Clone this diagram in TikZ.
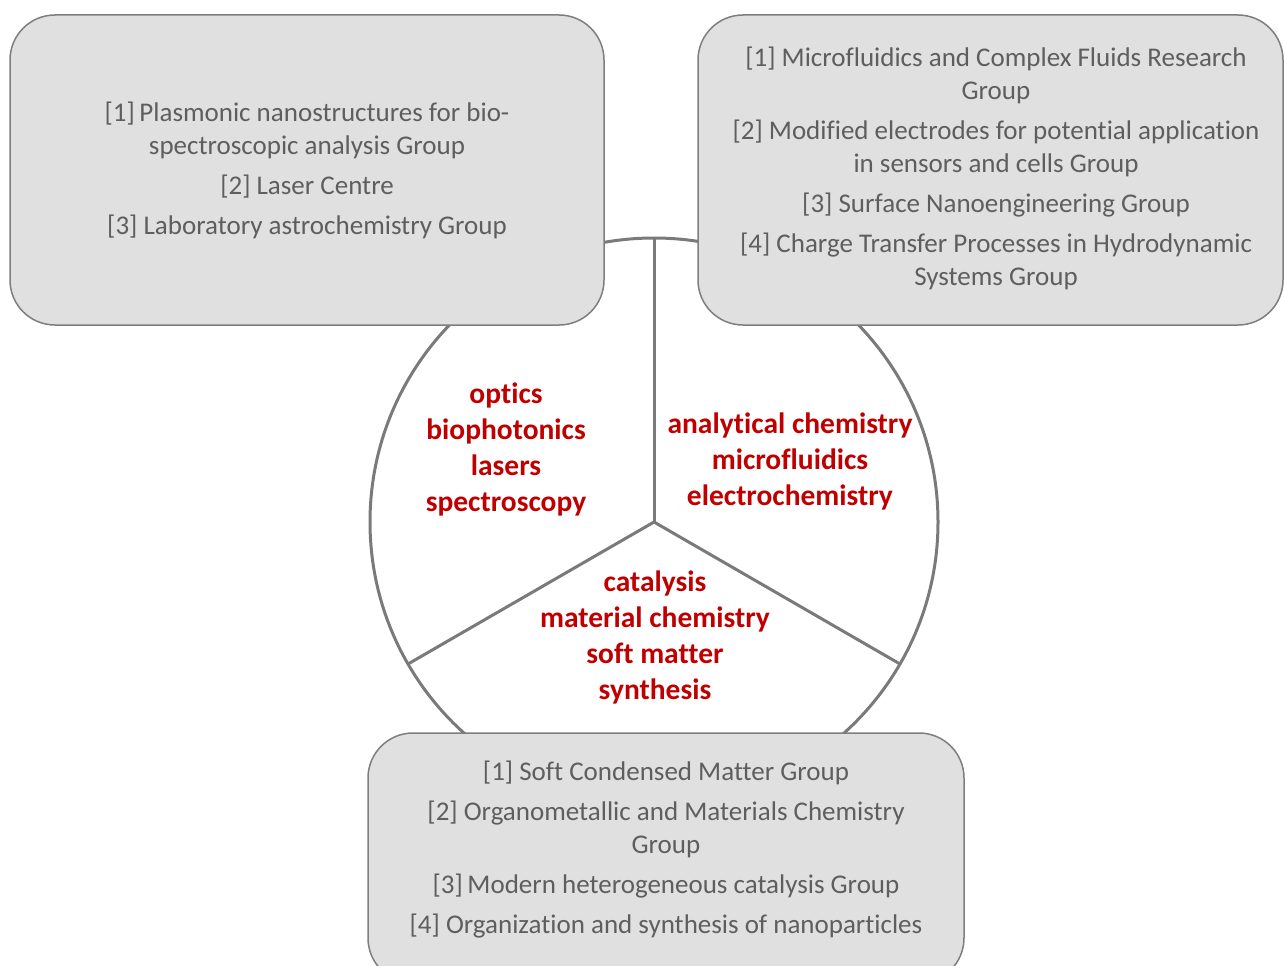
\documentclass[tikz,border=0pt]{standalone}
\usepackage{fontspec}
\setmainfont{Carlito}[Ligatures=NoCommon]
\definecolor{boxfill}{HTML}{E0E0E0}
\definecolor{boxline}{HTML}{7E7E7E}
\definecolor{circline}{HTML}{7A7A7A}
\definecolor{grytxt}{HTML}{5E5E5E}
\definecolor{redtxt}{HTML}{C00000}
\begin{document}
\begin{tikzpicture}[x=1pt,y=-1pt,
  box/.style={draw=boxline, fill=boxfill, line width=1.5pt, rounded corners=45pt, inner sep=0pt},
  grytext/.style={text=grytxt, align=center, inner sep=0pt, font=\fontsize{27}{33}\selectfont},
  redtext/.style={text=redtxt, align=center, inner sep=0pt, font=\fontsize{29.5}{36}\selectfont\bfseries},
  divider/.style={draw=circline, line width=3pt}]
\useasboundingbox[fill=white] (0,0) rectangle (1285,966);
% circle and dividers
\node[circle, divider, minimum size=568pt, inner sep=0pt] (c) at (654,522) {};
\coordinate (ctr) at (654,522);
\coordinate (ptop) at (654,238);
\coordinate (pleft) at (408,664);
\coordinate (pright) at (900,664);
\draw[divider] (ctr) -- (ptop);
\draw[divider] (ctr) -- (pleft);
\draw[divider] (ctr) -- (pright);
% boxes
\node[box, minimum width=594pt, minimum height=310pt] (tl) at (307,170) {};
\node[box, minimum width=585pt, minimum height=310pt] (tr) at (990.5,170) {};
\node[box, minimum width=596pt, minimum height=250pt] (bt) at (666,858) {};
% box texts
\node[grytext] (tltext) at (307,170) {[1]\,Plasmonic nanostructures for bio-\\spectroscopic analysis Group\\[7pt][2] Laser Centre\\[7pt][3] Laboratory astrochemistry Group};
\node[grytext] (trtext) at (996,168) {[1] Microfluidics and Complex Fluids Research\\Group\\[7pt][2] Modified electrodes for potential application\\in sensors and cells Group\\[7pt][3] Surface Nanoengineering Group\\[7pt][4] Charge Transfer Processes in Hydrodynamic\\Systems Group};
\node[grytext] (bttext) at (666,850) {[1] Soft Condensed Matter Group\\[7pt][2] Organometallic and Materials Chemistry\\Group\\[7pt][3]\,Modern heterogeneous catalysis Group\\[7pt][4] Organization and synthesis of nanoparticles};
% sector texts
\node[redtext] (optics) at (506,449) {optics\\biophotonics\\lasers\\spectroscopy};
\node[redtext] (anal) at (790,461) {analytical chemistry\\microfluidics\\electrochemistry};
\node[redtext] (catal) at (655,637) {catalysis\\material chemistry\\soft matter\\synthesis};
\end{tikzpicture}
\end{document}
